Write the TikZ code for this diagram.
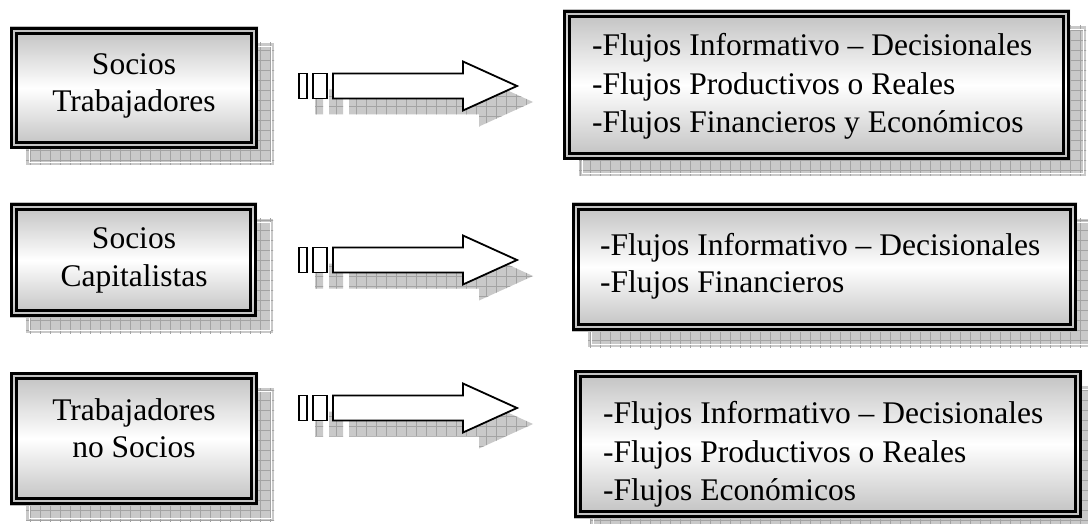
\documentclass[tikz,border=0pt]{standalone}
\usepackage{fontspec}
\setmainfont{Liberation Serif}
\tikzset{
  shadowfill/.style={fill=gray!42},
  shadowgrid/.style={draw=gray!72, line width=0.8pt},
  boxshade/.style={top color=gray!50, bottom color=gray!50, middle color=white},
  txt/.style={font=\fontsize{31.5}{38}\selectfont, inner sep=0pt},
  arrowline/.style={draw=black, fill=white, line width=1.8pt, line join=miter},
}
% #1 name, #2 x1, #3 y1, #4 x2, #5 y2
\newcommand\framedbox[5]{%
  \begin{scope}
    \clip (#2+16,#3+16) rectangle (#4+16,#5+16);
    \fill[shadowfill] (#2+16,#3+16) rectangle (#4+16,#5+16);
    \draw[shadowgrid] (#2,#3) grid[step=10pt] (#4+20,#5+20);
  \end{scope}
  \draw[white, line width=0.8pt] (#2+19,#3+19) rectangle (#4+13,#5+13);
  \shade[boxshade] (#2,#3) rectangle (#4,#5);
  \draw[line width=3pt] (#2+1.5,#3+1.5) rectangle (#4-1.5,#5-1.5);
  \draw[line width=2.4pt] (#2+6.5,#3+6.5) rectangle (#4-6.5,#5-6.5);
  \coordinate (#1) at ({(#2+#4)/2},{(#3+#5)/2});
}
% #1 name, #2 centre y
\newcommand\flowarrow[2]{%
  \begin{scope}[shift={(16,16)}]
    \clip (299,#2-12.5) rectangle (307,#2+12.5)
          (313,#2-12.5) rectangle (327,#2+12.5)
          (333,#2-12.5) -- (463,#2-12.5) -- (463,#2-24.5) -- (517,#2)
          -- (463,#2+24.5) -- (463,#2+12.5) -- (333,#2+12.5) -- cycle;
    \fill[shadowfill] (290,#2-30) rectangle (530,#2+30);
    \draw[shadowgrid] (290,#2-30) grid[step=10pt] (530,#2+30);
  \end{scope}
  \draw[arrowline] (299,#2-12.5) rectangle (307,#2+12.5);
  \draw[arrowline] (313,#2-12.5) rectangle (327,#2+12.5);
  \draw[arrowline] (333,#2-12.5) -- (463,#2-12.5) -- (463,#2-24.5) -- (517,#2)
          -- (463,#2+24.5) -- (463,#2+12.5) -- (333,#2+12.5) -- cycle;
  \coordinate (#1) at (408,#2);
}
\begin{document}
\begin{tikzpicture}[x=1pt, y=-1pt]
  \clip (0,0) rectangle (1088,524);
  \fill[white] (0,0) rectangle (1088,524);

  % left boxes
  \framedbox{L1}{10}{27}{258}{149}
  \framedbox{L2}{10}{203}{257}{317}
  \framedbox{L3}{10}{372}{258}{505}
  % right boxes
  \framedbox{R1}{563}{10}{1070}{160}
  \framedbox{R2}{572}{203}{1077}{331}
  \framedbox{R3}{574}{370}{1082}{518}
  % arrows
  \flowarrow{A1}{86}
  \flowarrow{A2}{260}
  \flowarrow{A3}{408}

  % left texts
  \node[txt, anchor=base] (l1a) at (134,75) {Socios};
  \node[txt, anchor=base] (l1b) at (134,112) {Trabajadores};
  \node[txt, anchor=base] (l2a) at (134,248) {Socios};
  \node[txt, anchor=base] (l2b) at (134,286) {Capitalistas};
  \node[txt, anchor=base] (l3a) at (134,420) {Trabajadores};
  \node[txt, anchor=base] (l3b) at (134,457) {no Socios};

  % right texts
  \node[txt, anchor=base west] (r1a) at (592,56) {-Flujos Informativo – Decisionales};
  \node[txt, anchor=base west] (r1b) at (592,94.5) {-Flujos Productivos o Reales};
  \node[txt, anchor=base west] (r1c) at (592,133) {-Flujos Financieros y Económicos};
  \node[txt, anchor=base west] (r2a) at (600,255) {-Flujos Informativo – Decisionales};
  \node[txt, anchor=base west] (r2b) at (600,292) {-Flujos Financieros};
  \node[txt, anchor=base west] (r3a) at (603,423) {-Flujos Informativo – Decisionales};
  \node[txt, anchor=base west] (r3b) at (603,462) {-Flujos Productivos o Reales};
  \node[txt, anchor=base west] (r3c) at (603,500) {-Flujos Económicos};
\end{tikzpicture}
\end{document}
